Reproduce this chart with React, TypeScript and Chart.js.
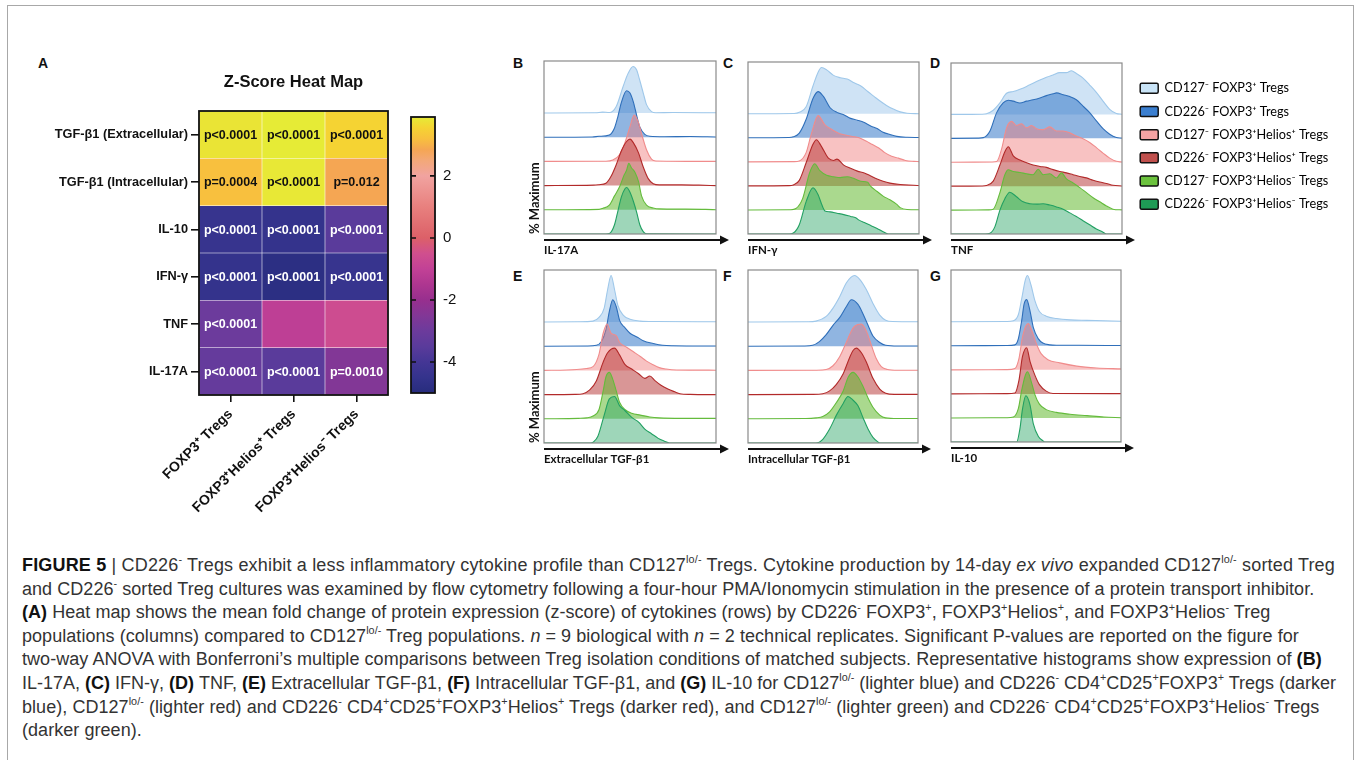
import React, { useEffect, useRef } from 'react';
import { Chart, registerables } from 'chart.js';

Chart.register(...registerables);

const ARIAL = '"Liberation Sans", Arial, Helvetica, sans-serif';
const CALIBRI = 'Lato, "Open Sans", "Liberation Sans", sans-serif';

// ---------------- Panel A: heat map data ----------------
const cytokines = ['TGF-β1 (Extracellular)', 'TGF-β1 (Intracellular)', 'IL-10', 'IFN-γ', 'TNF', 'IL-17A'];
const populations = ['FOXP3⁺ Tregs', 'FOXP3⁺Helios⁺ Tregs', 'FOXP3⁺Helios⁻ Tregs'];
const zScores = [
  [3.8, 3.9, 3.55],
  [3.2, 3.85, 2.85],
  [-4.4, -4.5, -3.5],
  [-4.5, -4.8, -4.4],
  [-3.0, -1.1, -0.6],
  [-3.2, -3.5, -2.5],
];
const pValues = [
  ['p<0.0001', 'p<0.0001', 'p<0.0001'],
  ['p=0.0004', 'p<0.0001', 'p=0.012'],
  ['p<0.0001', 'p<0.0001', 'p<0.0001'],
  ['p<0.0001', 'p<0.0001', 'p<0.0001'],
  ['p<0.0001', '', ''],
  ['p<0.0001', 'p<0.0001', 'p=0.0010'],
];
const colorbarMin = -5;
const colorbarMax = 3.9;
const colorbarTicks = [-4, -2, 0, 2];

// ---------------- Histogram data: [x (% of axis), % of maximum] ----------------
const il17aHist = [
  [[0, 0], [30, 0.5], [34, 2], [38, 1], [42, 14], [46, 57], [49, 86], [51.8, 100], [53.8, 93], [55.7, 70], [57.7, 43], [59.6, 18], [62.5, 3], [65, 0.5], [75, 1], [100, 0.5]],
  [[0, 0], [28, 0.5], [32, 2], [38, 5], [41, 20], [43, 45], [45, 75], [48, 100], [50, 95], [52, 75], [54, 45], [55.7, 22], [58.6, 6], [61.5, 2], [70, 1], [85, 1.5], [100, 0.5]],
  [[0, 0], [36, 0.5], [40, 3], [44, 15], [47, 40], [50, 75], [52.4, 100], [54.8, 85], [56.7, 60], [59.6, 25], [62.5, 5], [65, 1], [100, 0]],
  [[0, 0], [29, 1], [32, 2], [36, 5], [39, 20], [42, 45], [45, 75], [48, 95], [50, 100], [52, 92], [55, 70], [57.7, 40], [60.6, 15], [63.5, 4], [67, 1.5], [80, 1.5], [90, 1], [100, 0]],
  [[0, 0], [32, 1], [34, 3], [38, 10], [41, 30], [44, 50], [46.6, 75], [48, 85], [49.3, 100], [50.9, 90], [53, 80], [55, 60], [56.7, 30], [59.6, 10], [63.5, 4], [67, 2], [80, 1.5], [94, 1], [100, 0]],
  [[0, 0], [36, 0], [38, 1], [41, 20], [43, 50], [45, 80], [47, 97], [48, 100], [50, 90], [52, 70], [54, 45], [55.7, 20], [57.7, 5], [59.6, 0.5], [100, 0]],
];
const ifngHist = [
  [[0, 0], [27, 0.5], [30, 3], [34, 15], [38, 60], [41, 90], [43, 100], [46, 95], [50, 83], [54, 78], [58, 75], [62, 67], [66, 60], [70, 48], [73.5, 38], [77, 28], [81, 18], [85, 10], [89, 4], [93, 1], [100, 0]],
  [[0, 0], [24, 0.5], [26.5, 2], [30, 10], [34, 40], [38, 85], [41, 100], [44, 90], [48, 65], [52, 55], [56, 50], [60, 42], [64, 38], [68, 33], [72, 25], [75.5, 20], [79, 12], [83, 7], [87, 3], [93, 1], [100, 0.5]],
  [[0, 0], [27, 0.5], [30, 2], [34, 20], [37, 60], [41, 100], [45, 80], [49, 70], [53, 62], [57, 58], [61, 55], [65, 52], [69, 45], [72.5, 38], [76.5, 30], [80, 20], [84, 12], [88, 8], [92, 3], [97, 1], [100, 0.5]],
  [[0, 0], [24, 0.5], [26.5, 2], [30, 12], [34, 50], [38, 90], [40, 100], [43, 85], [47, 60], [50, 55], [52, 58], [56, 45], [60, 38], [64, 32], [68, 28], [71.5, 22], [75.5, 15], [79, 10], [83, 6], [89, 3], [99, 1], [100, 0.5]],
  [[0, 0], [25, 0.5], [28, 3], [32, 25], [36, 80], [39, 100], [42, 85], [46, 75], [50, 72], [54, 70], [58, 72], [62, 68], [66, 62], [70, 60], [71.5, 52], [75.5, 40], [79, 30], [83, 22], [87, 12], [89, 5], [93, 1], [100, 0.5]],
  [[0, 0], [24, 0], [26.5, 2], [30, 20], [34, 70], [38, 100], [41, 85], [43, 65], [45, 50], [48, 48], [52, 45], [56, 42], [60, 38], [63, 35], [65, 30], [68, 25], [72, 18], [75.5, 12], [79, 5], [82, 0], [100, 0]],
];
const tnfHist = [
  [[0, 0], [18, 0.5], [20.8, 1.5], [24.7, 9], [28.6, 25], [32.5, 46], [36.4, 50], [40.3, 55], [44.2, 61], [48, 68], [52, 75], [55.8, 81], [59.7, 86], [63.6, 91], [67.5, 91], [70.4, 95], [73.3, 89], [77.2, 79], [81.1, 64], [85, 48], [88.9, 29], [92.8, 11], [96.7, 2], [100, 0.5]],
  [[0, 0], [16, 0.5], [18.9, 1.5], [22.8, 16], [26.7, 56], [30.5, 77], [33.5, 83], [36.4, 81], [40.3, 77], [44.2, 81], [48, 84], [52, 88], [55.8, 93], [59.7, 97], [61.7, 99], [65.6, 95], [69.5, 91], [73.3, 84], [77.2, 70], [81.1, 56], [85, 38], [88.9, 21], [92.8, 9], [96.7, 2], [100, 0.5]],
  [[0, 0], [24, 0.5], [26.7, 1.5], [29.6, 29], [32.5, 75], [35.4, 89], [38.3, 80], [41.2, 84], [44.2, 75], [47.1, 80], [50, 73], [53.9, 71], [57.8, 77], [61.7, 68], [65.6, 68], [69.5, 64], [73.3, 57], [77.2, 51], [81.1, 43], [85, 32], [88.9, 20], [92.8, 9], [96.7, 2], [100, 0.5]],
  [[0, 0], [18, 0.5], [20.8, 1.5], [24.7, 11], [28.6, 46], [31.5, 75], [33.5, 86], [36.4, 66], [40.3, 57], [44.2, 51], [48, 46], [52, 43], [55.8, 41], [59.7, 36], [63.6, 32], [67.5, 29], [71.4, 25], [75.3, 21], [79.2, 18], [83.1, 13], [87, 9], [90.9, 6], [94.7, 2], [100, 0.5]],
  [[0, 0], [22, 0.5], [24.7, 2], [28.6, 38], [31.5, 77], [33.5, 88], [36.4, 84], [40.3, 82], [44.2, 79], [48, 77], [51, 89], [53.9, 77], [57.8, 79], [61.7, 70], [64.6, 81], [67.5, 68], [71.4, 59], [75.3, 49], [79.2, 38], [83.1, 27], [87, 18], [90.9, 9], [94.7, 2], [100, 0.5]],
  [[0, 0], [20, 0], [22.8, 1.5], [25.7, 16], [28.6, 52], [31.5, 77], [34.4, 91], [38.3, 81], [42.2, 70], [46.1, 66], [50, 65], [53.9, 66], [57.8, 63], [61.7, 59], [65.6, 54], [69.5, 46], [73.3, 38], [77.2, 29], [81.1, 20], [85, 11], [88.9, 4], [90.9, 0], [100, 0]],
];
const extraTgfHist = [
  [[0, 0], [20, 0.5], [28.5, 2], [32, 10], [35, 30], [37, 70], [39, 100], [41, 70], [43, 35], [46, 15], [50, 6], [56, 2], [65, 1], [100, 0.5]],
  [[0, 0], [25, 0.5], [30.5, 2], [33.4, 10], [36, 35], [38, 75], [40, 100], [42, 85], [44, 55], [47, 40], [50, 28], [54, 20], [57.7, 12], [63.5, 6], [69, 2], [75, 1], [100, 0.5]],
  [[0, 0], [13, 1], [19, 2], [24.7, 4], [28.5, 8], [32, 35], [34.4, 80], [36.7, 100], [39, 80], [42, 75], [44, 60], [48, 50], [52, 40], [56, 30], [59.6, 20], [63.5, 12], [67, 6], [71, 3], [77, 1], [100, 0.5]],
  [[0, 0], [18, 0.5], [22.7, 2], [26.6, 10], [30.5, 30], [34.4, 70], [37, 90], [41, 100], [44, 85], [47, 65], [51, 55], [55, 45], [58.6, 35], [61.5, 40], [64.5, 30], [68, 20], [72, 12], [76, 6], [79, 2], [85, 0.5], [100, 0]],
  [[0, 0], [20, 1], [24.7, 2], [28.5, 6], [32, 20], [34.4, 60], [36, 90], [38, 100], [40, 85], [42, 60], [44, 35], [47, 20], [51, 12], [56, 8], [61.5, 4], [67, 2], [80, 1], [100, 1]],
  [[0, 0], [27, 0], [29, 3], [31.4, 15], [35, 60], [38, 95], [41, 100], [44, 80], [47, 70], [51, 55], [55, 45], [58.6, 30], [62.5, 20], [66.4, 10], [70, 4], [73, 0], [100, 0]],
];
const intraTgfHist = [
  [[0, 0], [35, 0.5], [40, 2], [46, 12], [50, 30], [54, 55], [58, 85], [62.7, 100], [65.7, 92], [69.6, 70], [73.5, 40], [77.5, 15], [81, 4], [85, 1], [100, 0.5]],
  [[0, 0], [33, 0.5], [38, 2], [42, 10], [46, 25], [50, 45], [54, 62], [57.8, 85], [60.8, 100], [64.7, 90], [67.6, 70], [70.6, 45], [73.5, 22], [77.5, 8], [81, 2], [88, 0.5], [100, 0.5]],
  [[0, 0], [40, 0.5], [46, 2], [50, 10], [54, 30], [57.8, 60], [60.8, 85], [62.7, 95], [66.7, 100], [69.6, 85], [72.5, 55], [75.5, 25], [78.4, 8], [82, 2], [88, 0.5], [100, 0.5]],
  [[0, 0], [38, 0.5], [44, 2], [48, 8], [52, 22], [56, 45], [59.8, 80], [61.8, 95], [63.7, 100], [66.7, 90], [69.6, 70], [73.5, 35], [77.5, 12], [81, 3], [86, 0.5], [100, 0.5]],
  [[0, 0], [34, 0.5], [40, 2], [44, 5], [48, 15], [52, 35], [56, 60], [59, 90], [61.8, 100], [64.7, 90], [67.6, 70], [70.6, 45], [73.5, 25], [77.5, 8], [81, 2], [88, 0.5], [100, 0.5]],
  [[0, 0], [40, 0], [44, 8], [48, 30], [52, 60], [56, 85], [58.8, 100], [61.8, 92], [64.7, 80], [67.6, 55], [70.6, 30], [73.5, 12], [76.5, 2], [77.5, 0], [100, 0]],
];
const il10Hist = [
  [[0, 0], [33, 0.5], [36.7, 2], [39.6, 15], [41.6, 50], [43.7, 90], [45, 100], [47, 80], [49.4, 45], [52, 22], [56, 12], [62, 7], [70, 4], [80, 3], [90, 2], [100, 1]],
  [[0, 0], [33, 0.5], [37.6, 2], [39.6, 15], [41.6, 55], [43, 90], [44.5, 100], [46.5, 75], [48.4, 40], [51.4, 15], [54, 6], [58, 2], [62, 1], [75, 1], [100, 0.5]],
  [[0, 0], [33, 0.5], [37.6, 3], [40, 25], [42, 70], [44, 95], [45.5, 100], [47.5, 85], [50.4, 55], [53, 35], [57, 22], [64, 15], [74, 8], [85.7, 4], [100, 2]],
  [[0, 0], [33, 0.5], [37.6, 2], [40, 30], [42, 80], [44.5, 100], [46.5, 70], [49.4, 40], [52, 20], [56, 6], [60, 1], [100, 0.5]],
  [[0, 0], [33, 0.5], [36.7, 2], [39.6, 20], [41.6, 60], [43.7, 92], [45, 100], [47.5, 75], [49.4, 50], [52, 30], [56, 18], [62, 12], [70, 8], [80, 5], [90, 2], [100, 0.5]],
  [[0, 0], [38.6, 0], [40.6, 30], [42, 70], [44, 100], [46.5, 80], [48.4, 40], [51.4, 12], [54.3, 2], [55, 0], [100, 0]],
];

const traceLabels = [
  'CD127⁻ FOXP3⁺ Tregs',
  'CD226⁻ FOXP3⁺ Tregs',
  'CD127⁻ FOXP3⁺Helios⁺ Tregs',
  'CD226⁻ FOXP3⁺Helios⁺ Tregs',
  'CD127⁻ FOXP3⁺Helios⁻ Tregs',
  'CD226⁻ FOXP3⁺Helios⁻ Tregs',
];

// ---------------- Styles ----------------
const TRACE_LINE = ['#9fc8ea', '#2f6fba', '#f08c8c', '#b22a2a', '#64bb3c', '#22a062'];
const TRACE_FILL = [
  'rgba(160,200,236,0.5)',
  'rgba(52,120,200,0.55)',
  'rgba(240,120,120,0.45)',
  'rgba(180,45,45,0.5)',
  'rgba(100,185,50,0.55)',
  'rgba(40,165,100,0.45)',
];
const LEGEND_FILL = ['#c9e4f7', '#3b7fd0', '#f5a3a3', '#c0504d', '#6bc23d', '#1e9b55'];
const PEAK = 1.92; // 100 % of maximum, in baseline units
const Y_MAX = 7.15;

const COLOR_STOPS: [number, string][] = [
  [-5, '#272c7d'], [-4.5, '#34338c'], [-4, '#443695'], [-3.5, '#5a3b9b'], [-3, '#6c3b9c'],
  [-2.5, '#823796'], [-2, '#972f8e'], [-1.5, '#ae3690'], [-1, '#c24196'], [-0.5, '#d04f8e'],
  [0, '#dc6068'], [1, '#e8807e'], [2, '#f1a3a0'], [2.5, '#f3a878'], [2.85, '#f5a653'],
  [3.2, '#f8c03e'], [3.55, '#f5d333'], [3.9, '#e6eb36'],
];

function hexToRgb(h: string) {
  const n = parseInt(h.slice(1), 16);
  return [(n >> 16) & 255, (n >> 8) & 255, n & 255];
}
function zColor(v: number) {
  const s = COLOR_STOPS;
  if (v <= s[0][0]) return s[0][1];
  for (let i = 1; i < s.length; i++) {
    if (v <= s[i][0]) {
      const t = (v - s[i - 1][0]) / (s[i][0] - s[i - 1][0]);
      const a = hexToRgb(s[i - 1][1]);
      const b = hexToRgb(s[i][1]);
      const c = a.map((x, k) => Math.round(x + (b[k] - x) * t));
      return `rgb(${c[0]},${c[1]},${c[2]})`;
    }
  }
  return s[s.length - 1][1];
}

function useChart(makeConfig: () => any, after?: (c: any) => void) {
  const ref = useRef<HTMLCanvasElement | null>(null);
  useEffect(() => {
    const chart = new Chart(ref.current as HTMLCanvasElement, makeConfig());
    if (after) after(chart);
    return () => chart.destroy();
  }, []);
  return ref;
}

const canvasStyle = (left: number, top: number, w: number, h: number): React.CSSProperties => ({
  position: 'absolute', left, top, width: w, height: h,
});

// ---------------- Heat map ----------------
const heatmapPlugin = {
  id: 'heatmapDecor',
  afterDatasetsDraw(chart: any) {
    const ctx = chart.ctx;
    ctx.save();
    ctx.font = `bold 12.5px ${ARIAL}`;
    ctx.textAlign = 'center';
    ctx.textBaseline = 'middle';
    chart.data.datasets.forEach((ds: any, di: number) => {
      const meta = chart.getDatasetMeta(di);
      meta.data.forEach((bar: any, ci: number) => {
        const text = pValues[ds.rowIndex][ci];
        if (!text) return;
        ctx.fillStyle = zScores[ds.rowIndex][ci] > 0 ? '#111' : '#fff';
        ctx.fillText(text, bar.x, (bar.y + bar.base) / 2 + 1);
      });
    });
    const a = chart.chartArea;
    ctx.strokeStyle = '#111';
    ctx.lineWidth = 1.8;
    ctx.strokeRect(a.left, a.top, a.right - a.left, a.bottom - a.top);
    ctx.restore();
  },
};

function HeatMap() {
  const W = 380, H = 490;
  const ref = useChart(() => ({
    type: 'bar',
    data: {
      labels: populations,
      datasets: cytokines
        .map((name, r) => ({
          label: name,
          rowIndex: r,
          data: populations.map(() => 1),
          backgroundColor: zScores[r].map(zColor),
          borderColor: 'rgba(255,255,255,0.15)',
          borderWidth: 0.6,
          borderSkipped: false,
          barPercentage: 1,
          categoryPercentage: 1,
        }))
        .reverse(),
    },
    options: {
      animation: false,
      responsive: false,
      events: [],
      layout: { padding: { top: 32.6, left: 0, right: 12, bottom: 0 } },
      plugins: {
        legend: { display: false },
        tooltip: { enabled: false },
        title: {
          display: true,
          text: 'Z-Score Heat Map',
          fullSize: false,
          color: '#111',
          font: { family: ARIAL, size: 16.5, weight: 'bold' },
          padding: { top: 0, bottom: 18.6 },
        },
      },
      scales: {
        x: {
          stacked: true,
          grid: { display: true, drawOnChartArea: false, offset: false, tickLength: 7, color: '#111', lineWidth: 1.6 },
          border: { display: false },
          ticks: {
            minRotation: 45, maxRotation: 45, autoSkip: false, padding: 4,
            color: '#111', font: { family: ARIAL, size: 14, weight: 'bold' },
          },
          afterFit: (s: any) => { s.height = 135; },
        },
        y: {
          stacked: true,
          min: 0,
          max: cytokines.length,
          afterBuildTicks: (s: any) => {
            s.ticks = cytokines.map((_, i) => ({ value: cytokines.length - i - 0.5 }));
          },
          grid: { display: true, drawOnChartArea: false, tickLength: 8, color: '#111', lineWidth: 1.6 },
          border: { display: false },
          ticks: {
            padding: 3,
            color: '#111',
            font: { family: ARIAL, size: 12.75, weight: 'bold' },
            callback: (v: any) => cytokines[Math.round(cytokines.length - 0.5 - Number(v))],
          },
          afterFit: (s: any) => { s.width = 179; },
        },
      },
    },
    plugins: [heatmapPlugin],
  }));
  return <canvas ref={ref} width={W} height={H} style={canvasStyle(20, 40, W, H)} />;
}

const colorbarPlugin = {
  id: 'colorbarDecor',
  afterDatasetsDraw(chart: any) {
    const ctx = chart.ctx;
    const a = chart.chartArea;
    const y = chart.scales.y;
    ctx.save();
    ctx.strokeStyle = '#111';
    ctx.lineWidth = 1.6;
    colorbarTicks.forEach((v) => {
      const py = y.getPixelForValue(v);
      ctx.beginPath();
      ctx.moveTo(a.left, py); ctx.lineTo(a.left + 5, py);
      ctx.moveTo(a.right - 5, py); ctx.lineTo(a.right, py);
      ctx.stroke();
    });
    ctx.lineWidth = 1.8;
    ctx.strokeRect(a.left, a.top, a.right - a.left, a.bottom - a.top);
    ctx.restore();
  },
};

function ColorBar() {
  const W = 70, H = 310;
  const ref = useChart(() => ({
    type: 'bar',
    data: {
      labels: [''],
      datasets: [{
        data: [[colorbarMin, colorbarMax]],
        barPercentage: 1,
        categoryPercentage: 1,
        borderWidth: 0,
        backgroundColor: (c: any) => {
          const chart = c.chart;
          if (!chart.chartArea) return '#888';
          const ys = chart.scales.y;
          const g = chart.ctx.createLinearGradient(0, ys.getPixelForValue(colorbarMin), 0, ys.getPixelForValue(colorbarMax));
          COLOR_STOPS.forEach(([v, col]) => g.addColorStop((v - colorbarMin) / (colorbarMax - colorbarMin), col));
          return g;
        },
      }],
    },
    options: {
      animation: false,
      responsive: false,
      events: [],
      layout: { padding: { left: 11, top: 11, bottom: 15, right: 0 } },
      plugins: { legend: { display: false }, tooltip: { enabled: false } },
      scales: {
        x: { display: false },
        y: {
          position: 'right',
          min: colorbarMin,
          max: colorbarMax,
          afterBuildTicks: (s: any) => { s.ticks = colorbarTicks.map((v) => ({ value: v })); },
          grid: { display: false, drawTicks: false },
          border: { display: false },
          ticks: { padding: 8, color: '#111', font: { family: ARIAL, size: 15 } },
          afterFit: (s: any) => { s.width = 35; },
        },
      },
    },
    plugins: [colorbarPlugin],
  }));
  return <canvas ref={ref} width={W} height={H} style={canvasStyle(400, 100, W, H)} />;
}

// ---------------- Histograms ----------------
const histDecor = {
  id: 'histDecor',
  afterDatasetsDraw(chart: any) {
    const ctx = chart.ctx;
    const a = chart.chartArea;
    ctx.save();
    ctx.strokeStyle = '#8a8a8a';
    ctx.lineWidth = 1.2;
    ctx.strokeRect(a.left, a.top, a.right - a.left, a.bottom - a.top);
    const y = a.bottom + 6;
    const x1 = a.right + 13;
    ctx.strokeStyle = '#111';
    ctx.fillStyle = '#111';
    ctx.lineWidth = 1.8;
    ctx.beginPath();
    ctx.moveTo(a.left, y);
    ctx.lineTo(x1 - 6, y);
    ctx.stroke();
    ctx.beginPath();
    ctx.moveTo(x1, y);
    ctx.lineTo(x1 - 9, y - 4.5);
    ctx.lineTo(x1 - 9, y + 4.5);
    ctx.closePath();
    ctx.fill();
    ctx.restore();
  },
};

type Box = { l: number; t: number; r: number; b: number };

function Histogram({ traces, xTitle, box, yTitle = false, legend = false }:
  { traces: number[][][]; xTitle: string; box: Box; yTitle?: boolean; legend?: boolean }) {
  const leftPad = yTitle ? 24 : 6;
  const cLeft = box.l - leftPad;
  const cTop = box.t - 5;
  const cRight = legend ? 1352 : box.r + 20;
  const cBottom = box.b + 26;
  const W = cRight - cLeft;
  const H = cBottom - cTop;
  const targetRight = box.r - cLeft;
  const ref = useChart(() => {
    const n = traces.length;
    const scales: any = {
      x: {
        type: 'linear', min: 0, max: 100,
        grid: { display: false }, border: { display: false }, ticks: { display: false },
        title: {
          display: true, text: xTitle, align: 'start', color: '#111',
          font: { family: CALIBRI, size: 11.5, weight: 'bold' }, padding: { top: 0, bottom: 2.6 },
        },
        afterFit: (s: any) => { s.height = 26; },
      },
      y: {
        type: 'linear', min: 0, max: Y_MAX, display: yTitle,
        grid: { display: false }, border: { display: false }, ticks: { display: false },
        title: {
          display: yTitle, text: '% Maximum', align: 'start', color: '#111',
          font: { family: CALIBRI, size: 13, weight: 'bold' }, padding: { top: 7, bottom: 0 },
        },
        afterFit: (s: any) => { s.width = yTitle ? 24 : 0; },
      },
    };
    if (legend) {
      scales.yr = {
        type: 'linear', position: 'right', display: true,
        grid: { display: false }, border: { display: false }, ticks: { display: false },
        afterFit: (s: any) => { s.width = 7.7; },
      };
    }
    return {
      type: 'line',
      data: {
        datasets: traces.map((pts, i) => ({
          label: traceLabels[i],
          data: pts.map(([x, v]) => ({ x, y: n - 1 - i + (v / 100) * PEAK })),
          borderColor: TRACE_LINE[i],
          backgroundColor: TRACE_FILL[i],
          fill: { value: n - 1 - i },
          borderWidth: 1.1,
          pointRadius: 0,
          pointHoverRadius: 0,
          cubicInterpolationMode: 'monotone',
          order: n - i,
        })),
      },
      options: {
        animation: false,
        responsive: false,
        events: [],
        layout: { padding: { top: 5, left: yTitle ? 0 : 6, right: legend ? 0 : 20, bottom: 0 } },
        plugins: {
          tooltip: { enabled: false },
          legend: legend
            ? {
              display: true,
              position: 'right',
              align: 'start',
              fullSize: false,
              maxWidth: 400,
              title: { display: true, text: '', font: { size: 7 }, padding: 0 },
              labels: {
                boxWidth: 18,
                boxHeight: 10,
                padding: 10.5,
                color: '#000',
                useBorderRadius: true,
                borderRadius: 1.5,
                font: { family: CALIBRI, size: 12.7 },
                generateLabels: () => traceLabels.map((text, i) => ({
                  text,
                  fillStyle: LEGEND_FILL[i],
                  strokeStyle: '#111',
                  fontColor: '#000',
                  lineWidth: 1.5,
                  borderRadius: 1.5,
                  hidden: false,
                  datasetIndex: i,
                })),
              },
            }
            : { display: false },
        },
        scales,
      },
      plugins: [histDecor],
    };
  }, (chart: any) => {
    if (!legend) return;
    const dx = chart.chartArea.right - targetRight;
    if (Math.abs(dx) > 0.01) {
      chart.options.layout.padding.right += dx;
      chart.update('none');
    }
  });
  return <canvas ref={ref} width={W} height={H} style={canvasStyle(cLeft, cTop, W, H)} />;
}

// ---------------- Layout ----------------
const Sup = ({ children }: { children: any }) => (
  <span style={{ fontSize: '0.6em', position: 'relative', top: '-0.7em', lineHeight: 0 }}>{children}</span>
);

const letterStyle = (left: number, top: number): React.CSSProperties => ({
  position: 'absolute', left, top, fontFamily: ARIAL, fontWeight: 'bold', fontSize: 14, lineHeight: '14px', color: '#111',
});

const B = ({ children }: { children: any }) => <b style={{ color: '#111' }}>{children}</b>;

export default function App() {
  return (
    <div style={{ position: 'absolute', left: 0, top: 0, width: 1354, height: 760, overflow: 'hidden', background: '#fff' }}>
      <div style={{ position: 'absolute', left: 7, top: 5, width: 1347, height: 800, border: '1.5px solid #a8a8a8', boxSizing: 'border-box' }} />
      <div style={letterStyle(38, 56)}>A</div>
      <div style={letterStyle(513, 56)}>B</div>
      <div style={letterStyle(723, 56)}>C</div>
      <div style={letterStyle(930, 56)}>D</div>
      <div style={letterStyle(513, 269)}>E</div>
      <div style={letterStyle(723, 269)}>F</div>
      <div style={letterStyle(930, 269)}>G</div>

      <HeatMap />
      <ColorBar />
      <Histogram traces={il17aHist} xTitle="IL-17A" box={{ l: 544, t: 61, r: 716, b: 234 }} yTitle />
      <Histogram traces={ifngHist} xTitle="IFN-γ" box={{ l: 748, t: 62, r: 919, b: 234 }} />
      <Histogram traces={tnfHist} xTitle="TNF" box={{ l: 951, t: 63, r: 1122, b: 234 }} legend />
      <Histogram traces={extraTgfHist} xTitle="Extracellular TGF-β1" box={{ l: 544, t: 270, r: 716, b: 443 }} yTitle />
      <Histogram traces={intraTgfHist} xTitle="Intracellular TGF-β1" box={{ l: 748, t: 270, r: 918, b: 443 }} />
      <Histogram traces={il10Hist} xTitle="IL-10" box={{ l: 951, t: 270, r: 1121, b: 442 }} />

      <div style={{
        position: 'absolute', left: 22, top: 554, fontFamily: ARIAL, fontSize: 18, letterSpacing: '0.05px',
        lineHeight: '23.6px', color: '#333', whiteSpace: 'nowrap',
      }}>
        <div style={{ letterSpacing: '0.17px' }}><B>FIGURE 5</B> | CD226<Sup>-</Sup> Tregs exhibit a less inflammatory cytokine profile than CD127<Sup>lo/-</Sup> Tregs. Cytokine production by 14-day <i>ex vivo</i> expanded CD127<Sup>lo/-</Sup> sorted Treg</div>
        <div>and CD226<Sup>-</Sup> sorted Treg cultures was examined by flow cytometry following a four-hour PMA/Ionomycin stimulation in the presence of a protein transport inhibitor.</div>
        <div><B>(A)</B> Heat map shows the mean fold change of protein expression (z-score) of cytokines (rows) by CD226<Sup>-</Sup> FOXP3<Sup>+</Sup>, FOXP3<Sup>+</Sup>Helios<Sup>+</Sup>, and FOXP3<Sup>+</Sup>Helios<Sup>-</Sup> Treg</div>
        <div>populations (columns) compared to CD127<Sup>lo/-</Sup> Treg populations. <i>n</i> = 9 biological with <i>n</i> = 2 technical replicates. Significant P-values are reported on the figure for</div>
        <div>two-way ANOVA with Bonferroni’s multiple comparisons between Treg isolation conditions of matched subjects. Representative histograms show expression of <B>(B)</B></div>
        <div style={{ letterSpacing: '0px' }}>IL-17A, <B>(C)</B> IFN-γ, <B>(D)</B> TNF, <B>(E)</B> Extracellular TGF-β1, <B>(F)</B> Intracellular TGF-β1, and <B>(G)</B> IL-10 for CD127<Sup>lo/-</Sup> (lighter blue) and CD226<Sup>-</Sup> CD4<Sup>+</Sup>CD25<Sup>+</Sup>FOXP3<Sup>+</Sup> Tregs (darker</div>
        <div>blue), CD127<Sup>lo/-</Sup> (lighter red) and CD226<Sup>-</Sup> CD4<Sup>+</Sup>CD25<Sup>+</Sup>FOXP3<Sup>+</Sup>Helios<Sup>+</Sup> Tregs (darker red), and CD127<Sup>lo/-</Sup> (lighter green) and CD226<Sup>-</Sup> CD4<Sup>+</Sup>CD25<Sup>+</Sup>FOXP3<Sup>+</Sup>Helios<Sup>-</Sup> Tregs</div>
        <div>(darker green).</div>
      </div>
    </div>
  );
}
